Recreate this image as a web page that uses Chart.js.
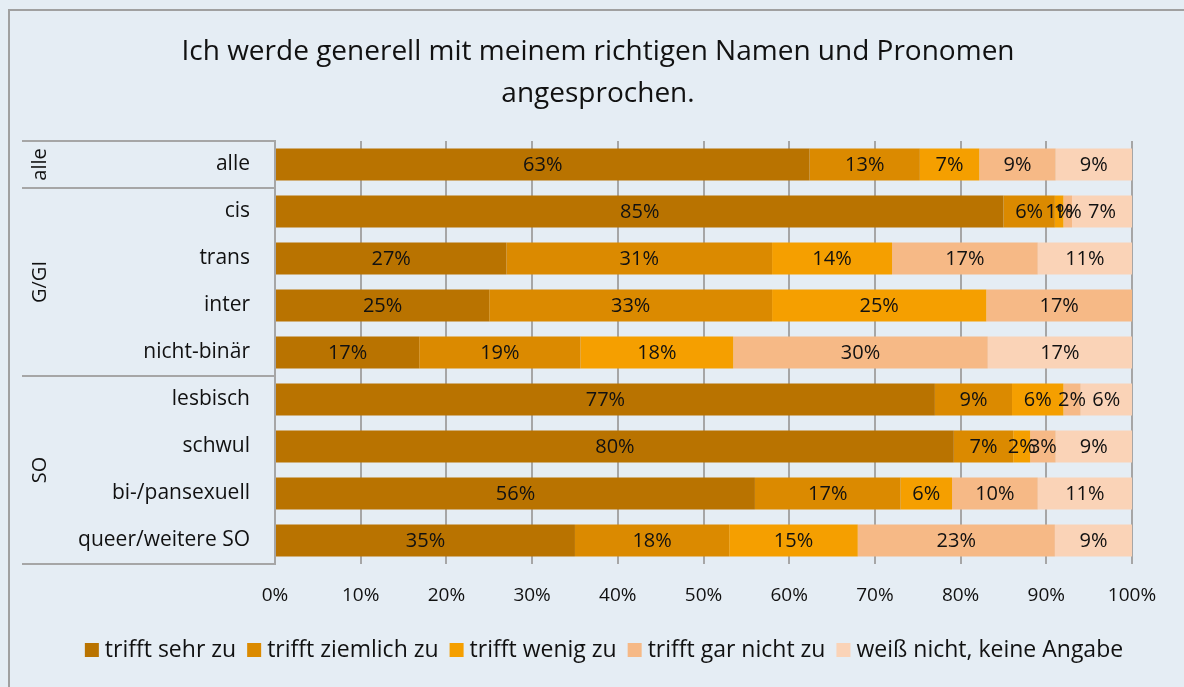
<!DOCTYPE html>
<html>
<head>
<meta charset="utf-8">
<script src="https://cdn.jsdelivr.net/npm/chart.js@4.4.1/dist/chart.umd.min.js"></script>
<style>
    html, body { margin: 0; padding: 0; background: #e5edf4; }
    #wrap { width: 1184px; height: 687px; position: relative; }
</style>
</head>
<body>
<div id="wrap"><canvas id="chart" width="1184" height="687"></canvas></div>
<script>
const titleLines = ['Ich werde generell mit meinem richtigen Namen und Pronomen', 'angesprochen.'];

const categories = ['alle', 'cis', 'trans', 'inter', 'nicht-binär', 'lesbisch', 'schwul', 'bi-/pansexuell', 'queer/weitere SO'];
const groupNames = ['alle', 'G/GI', 'SO'];
const groupSizes = [1, 4, 4];

const seriesNames = ['trifft sehr zu', 'trifft ziemlich zu', 'trifft wenig zu', 'trifft gar nicht zu', 'weiß nicht, keine Angabe'];
const seriesColors = ['#b97300', '#db8a00', '#f59f00', '#f6b986', '#fad3b7'];

// displayed percentages per row (rows may add up to 101 due to rounding)
const sehrZu     = [63, 85, 27, 25, 17, 77, 80, 56, 35];
const ziemlichZu = [13,  6, 31, 33, 19,  9,  7, 17, 18];
const wenigZu    = [ 7,  1, 14, 25, 18,  6,  2,  6, 15];
const garNichtZu = [ 9,  1, 17, 17, 30,  2,  3, 10, 23];
const weissNicht = [ 9,  7, 11,  0, 17,  6,  9, 11,  9];

const xTicks = [0, 10, 20, 30, 40, 50, 60, 70, 80, 90, 100];

const FONT = "'Open Sans', sans-serif";
const GRID = '#a6a6a6';

const rawSeries = [sehrZu, ziemlichZu, wenigZu, garNichtZu, weissNicht];
const rowTotals = categories.map((_, i) => rawSeries.reduce((s, arr) => s + arr[i], 0));

const datasets = rawSeries.map((arr, k) => ({
    label: seriesNames[k],
    rawValues: arr,
    data: arr.map((v, i) => v / rowTotals[i] * 100),
    backgroundColor: seriesColors[k],
    borderWidth: 0,
    barPercentage: 0.68,
    categoryPercentage: 1
}));

const backgroundPlugin = {
    id: 'bg',
    beforeDraw(chart) {
        const ctx = chart.ctx;
        ctx.save();
        ctx.fillStyle = '#e5edf4';
        ctx.fillRect(0, 0, chart.width, chart.height);
        ctx.strokeStyle = '#a0a0a0';
        ctx.lineWidth = 2;
        ctx.beginPath();
        ctx.moveTo(9, chart.height + 5);
        ctx.lineTo(9, 10);
        ctx.lineTo(chart.width + 5, 10);
        ctx.stroke();
        ctx.restore();
    }
};

const tablePlugin = {
    id: 'table',
    afterDraw(chart) {
        const ctx = chart.ctx;
        const y = chart.scales.y;
        const left = 22;
        const right = chart.chartArea.left;
        const rowH = (y.bottom - y.top) / categories.length;
        ctx.save();
        ctx.strokeStyle = GRID;
        ctx.lineWidth = 2;
        let start = 0;
        const lines = [y.top];
        groupSizes.forEach(n => { start += n; lines.push(y.top + start * rowH); });
        lines.forEach(py => {
            ctx.beginPath();
            ctx.moveTo(left, py);
            ctx.lineTo(right, py);
            ctx.stroke();
        });
        ctx.fillStyle = '#111';
        ctx.font = '20px ' + FONT;
        ctx.textAlign = 'center';
        ctx.textBaseline = 'middle';
        start = 0;
        groupNames.forEach((name, g) => {
            const mid = y.top + (start + groupSizes[g] / 2) * rowH;
            start += groupSizes[g];
            ctx.save();
            ctx.translate(40, mid);
            ctx.rotate(-Math.PI / 2);
            ctx.fillText(name, 0, 0);
            ctx.restore();
        });
        ctx.restore();
    }
};

const labelPlugin = {
    id: 'segLabels',
    afterDatasetsDraw(chart) {
        const ctx = chart.ctx;
        ctx.save();
        ctx.fillStyle = '#111';
        ctx.font = '20px ' + FONT;
        ctx.textAlign = 'center';
        ctx.textBaseline = 'middle';
        chart.data.datasets.forEach((ds, k) => {
            const meta = chart.getDatasetMeta(k);
            meta.data.forEach((bar, i) => {
                const v = ds.rawValues[i];
                if (!v) return;
                const p = bar.getProps(['x', 'y', 'base'], true);
                ctx.fillText(v + '%', (p.x + p.base) / 2, p.y + 1);
            });
        });
        ctx.restore();
    }
};

// legend drawn on one line below the axis, like the original
const legendPlugin = {
    id: 'oneLineLegend',
    afterDraw(chart) {
        const ctx = chart.ctx;
        const box = 14, gap = 6, itemGap = 11, cy = 650, cx = 604;
        ctx.save();
        ctx.font = '23px ' + FONT;
        ctx.textBaseline = 'middle';
        ctx.textAlign = 'left';
        const widths = seriesNames.map(n => ctx.measureText(n).width);
        const total = widths.reduce((s, w) => s + box + gap + w, 0) + itemGap * (seriesNames.length - 1);
        let x = cx - total / 2;
        seriesNames.forEach((name, k) => {
            ctx.fillStyle = seriesColors[k];
            ctx.fillRect(x, cy - box / 2, box, box);
            x += box + gap;
            ctx.fillStyle = '#111';
            ctx.fillText(name, x, cy);
            x += widths[k] + itemGap;
        });
        ctx.restore();
    }
};

new Chart(document.getElementById('chart'), {
    type: 'bar',
    data: { labels: categories, datasets: datasets },
    options: {
        indexAxis: 'y',
        responsive: false,
        animation: false,
        layout: { padding: { top: 0, left: 64, right: 52, bottom: 55 } },
        plugins: {
            title: {
                display: true,
                text: titleLines,
                color: '#111',
                font: { family: FONT, size: 28, weight: 'normal', lineHeight: 1.5 },
                padding: { top: 31, bottom: 26 }
            },
            legend: { display: false },
            tooltip: { enabled: false }
        },
        scales: {
            x: {
                stacked: true,
                min: 0,
                max: 100,
                afterBuildTicks(scale) { scale.ticks = xTicks.map(v => ({ value: v })); },
                afterFit(scale) { scale.height = 68; },
                grid: { color: GRID, lineWidth: 2, drawTicks: false },
                border: { display: false },
                ticks: {
                    color: '#111',
                    padding: 20,
                    font: { family: FONT, size: 19 },
                    callback: v => v + '%'
                }
            },
            y: {
                stacked: true,
                afterFit(scale) { scale.width = 211; },
                grid: { display: false },
                border: { display: true, color: GRID, width: 2 },
                ticks: {
                    color: '#111',
                    padding: 17,
                    font: { family: FONT, size: 21 }
                }
            }
        }
    },
    plugins: [backgroundPlugin, tablePlugin, labelPlugin, legendPlugin]
});
</script>
</body>
</html>
